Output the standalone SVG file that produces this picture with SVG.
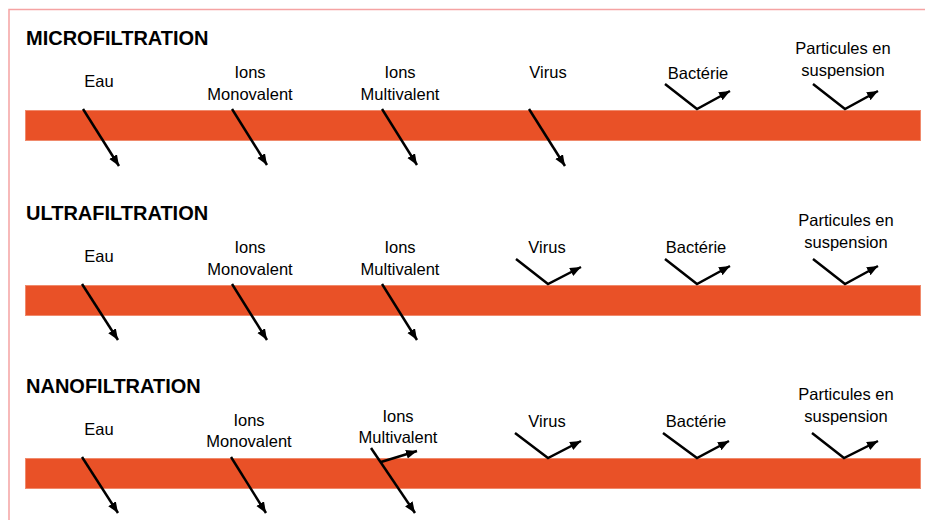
<svg xmlns="http://www.w3.org/2000/svg" width="925" height="521" viewBox="0 0 925 521">
<style>
.bar{fill:#E95127;stroke:#F08A6C;stroke-width:1}
.title{font-family:"Liberation Sans",Arial,sans-serif;font-weight:bold;font-size:20px;fill:#000}
.lbl{font-family:"Liberation Sans",Arial,sans-serif;font-size:16.5px;fill:#000;text-anchor:middle}
.arr{fill:none;stroke:#000;stroke-width:2.5;marker-end:url(#ah)}
.frame{fill:none;stroke:#F5A3A3;stroke-width:1.5}
</style>
<defs>
<marker id="ah" markerUnits="userSpaceOnUse" markerWidth="12" markerHeight="10" refX="11" refY="4.5" orient="auto">
<path d="M0,0 L11,4.5 L0,9 z" fill="#000"/>
</marker>
</defs>
<rect width="925" height="521" fill="#fff"/>
<path class="frame" d="M9,520 L9,9.5 L925,9.5"/>

<g id="micro">
<text class="title" x="26" y="45">MICROFILTRATION</text>
<rect class="bar" x="25.5" y="110.5" width="895" height="30"/>
</g>
<g id="ultra">
<text class="title" x="26" y="220">ULTRAFILTRATION</text>
<rect class="bar" x="25.5" y="285.5" width="895" height="30"/>
</g>
<g id="nano">
<text class="title" x="26" y="393">NANOFILTRATION</text>
<rect class="bar" x="25.5" y="458.5" width="895" height="30"/>
</g>

<g id="labels-micro">
<text class="lbl" x="99" y="87">Eau</text>
<text class="lbl" x="250" y="78">Ions</text>
<text class="lbl" x="250" y="100">Monovalent</text>
<text class="lbl" x="400" y="78">Ions</text>
<text class="lbl" x="400" y="100">Multivalent</text>
<text class="lbl" x="548" y="78">Virus</text>
<text class="lbl" x="698" y="79">Bactérie</text>
<text class="lbl" x="843" y="54">Particules en</text>
<text class="lbl" x="843" y="76">suspension</text>
</g>
<g id="labels-ultra">
<text class="lbl" x="99" y="262">Eau</text>
<text class="lbl" x="250" y="253">Ions</text>
<text class="lbl" x="250" y="275">Monovalent</text>
<text class="lbl" x="400" y="253">Ions</text>
<text class="lbl" x="400" y="275">Multivalent</text>
<text class="lbl" x="547" y="253">Virus</text>
<text class="lbl" x="696" y="253">Bactérie</text>
<text class="lbl" x="846" y="226">Particules en</text>
<text class="lbl" x="846" y="248">suspension</text>
</g>
<g id="labels-nano">
<text class="lbl" x="99" y="435">Eau</text>
<text class="lbl" x="249" y="426">Ions</text>
<text class="lbl" x="249" y="447">Monovalent</text>
<text class="lbl" x="398" y="422">Ions</text>
<text class="lbl" x="398" y="443">Multivalent</text>
<text class="lbl" x="547" y="427">Virus</text>
<text class="lbl" x="696" y="427">Bactérie</text>
<text class="lbl" x="846" y="400">Particules en</text>
<text class="lbl" x="846" y="422">suspension</text>
</g>

<g id="connectors">
<path class="arr" d="M83,109 L119,166"/>
<path class="arr" d="M232,109 L267,165"/>
<path class="arr" d="M382,109 L417,165"/>
<path class="arr" d="M529,109 L565,166"/>
<path class="arr" d="M665,84 L697,109 L730,91"/>
<path class="arr" d="M813,84 L845,109 L878,91"/>

<path class="arr" d="M82,284 L118,340"/>
<path class="arr" d="M232,284 L267,340"/>
<path class="arr" d="M382,284 L417,340"/>
<path class="arr" d="M516,259 L548,284 L581,267"/>
<path class="arr" d="M665,259 L697,284 L730,266"/>
<path class="arr" d="M813,259 L845,284 L878,266"/>

<path class="arr" d="M82,457 L118,513"/>
<path class="arr" d="M231,457 L266,513"/>
<path class="arr" d="M371,448 L415,513"/>
<path class="arr" d="M381,462 L417,451"/>
<path class="arr" d="M515,433 L548,458 L581,441"/>
<path class="arr" d="M663,433 L697,458 L729,441"/>
<path class="arr" d="M812,433 L844,458 L878,441"/>
</g>
</svg>
